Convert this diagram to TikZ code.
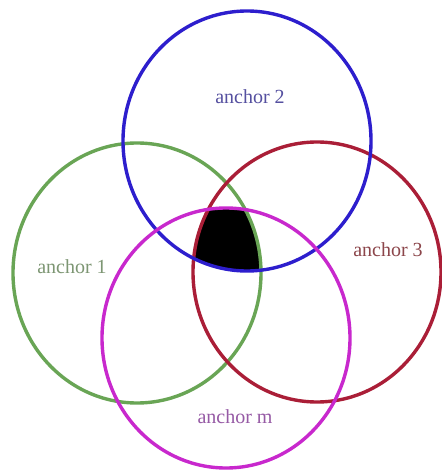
\documentclass[tikz,border=0pt]{standalone}
\usepackage{fontspec}
\setmainfont{Liberation Serif}
\definecolor{cblue}{RGB}{45,30,205}
\definecolor{cgreen}{RGB}{105,165,85}
\definecolor{cred}{RGB}{170,30,55}
\definecolor{cmag}{RGB}{200,40,205}
\definecolor{tblue}{RGB}{85,80,160}
\definecolor{tgreen}{RGB}{125,150,115}
\definecolor{tred}{RGB}{140,70,75}
\definecolor{tmag}{RGB}{150,90,165}
\tikzset{
  ring/.style={line width=3.4pt},
  lbl/.style={font=\fontsize{20}{22}\selectfont, inner sep=0pt},
  rx/.style={x radius=124, y radius=130}
}
\begin{document}
\begin{tikzpicture}[x=1pt,y=-1pt]
\useasboundingbox[fill=white] (0,0) rectangle (441,470);
\coordinate (c2) at (247,141);
\coordinate (c1) at (137,273);
\coordinate (c3) at (317,272);
\coordinate (cm) at (226,338);
% black intersection of all four
\begin{scope}
  \clip (c2) ellipse [rx];
  \clip (c1) ellipse [rx];
  \clip (c3) ellipse [rx];
  \fill[black] (cm) ellipse [rx];
\end{scope}
\draw[ring, cgreen] (c1) ellipse [rx];
\draw[ring, cred] (c3) ellipse [rx];
\draw[ring, cblue] (c2) ellipse [rx];
\draw[ring, cmag] (cm) ellipse [rx];
\node[lbl, text=tblue] (l2) at (250,97) {anchor 2};
\node[lbl, text=tgreen] (l1) at (72,267) {anchor 1};
\node[lbl, text=tred] (l3) at (388,250) {anchor 3};
\node[lbl, text=tmag] (lm) at (235,417) {anchor m};
\end{tikzpicture}
\end{document}
